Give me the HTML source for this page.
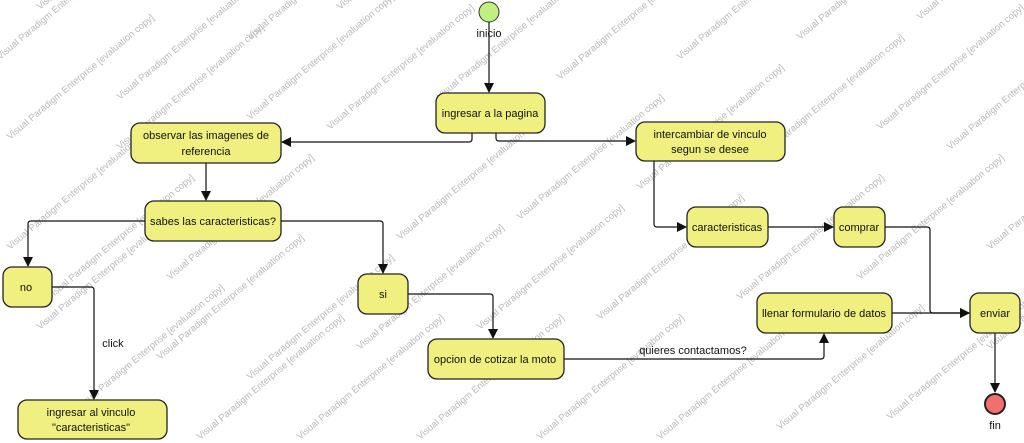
<!DOCTYPE html>
<html><head><meta charset="utf-8"><style>
html,body{margin:0;padding:0;background:#fff;width:1024px;height:443px;overflow:hidden}
svg{display:block}
text{font-family:"Liberation Sans",Arial,sans-serif}
.n{fill:#f0f080;stroke:#222;stroke-width:1.3}
.t{font-size:11px;fill:#111;text-anchor:middle}
.e{fill:none;stroke:#111;stroke-width:1.2}
.w{font-size:9.5px;fill:#b8b8b8}
</style></head><body>
<svg width="1024" height="443" viewBox="0 0 1024 443">
<defs><marker id="a" markerWidth="10" markerHeight="10" refX="9" refY="5" orient="auto" markerUnits="userSpaceOnUse"><path d="M0,0 L10,5 L0,10 z" fill="#111"/></marker></defs>
<g id="wm">
<script></script>
</g>
<g class="w">
<text transform="translate(0,60) rotate(-40)">Visual Paradigm Enterprise [evaluation copy]</text>
<text transform="translate(40,10) rotate(-40)">Visual Paradigm Enterprise [evaluation copy]</text>
<text transform="translate(10,140) rotate(-40)">Visual Paradigm Enterprise [evaluation copy]</text>
<text transform="translate(120,100) rotate(-40)">Visual Paradigm Enterprise [evaluation copy]</text>
<text transform="translate(120,150) rotate(-40)">Visual Paradigm Enterprise [evaluation copy]</text>
<text transform="translate(250,40) rotate(-40)">Visual Paradigm Enterprise [evaluation copy]</text>
<text transform="translate(250,120) rotate(-40)">Visual Paradigm Enterprise [evaluation copy]</text>
<text transform="translate(340,10) rotate(-40)">Visual Paradigm Enterprise [evaluation copy]</text>
<text transform="translate(330,130) rotate(-40)">Visual Paradigm Enterprise [evaluation copy]</text>
<text transform="translate(400,240) rotate(-40)">Visual Paradigm Enterprise [evaluation copy]</text>
<text transform="translate(440,100) rotate(-40)">Visual Paradigm Enterprise [evaluation copy]</text>
<text transform="translate(520,220) rotate(-40)">Visual Paradigm Enterprise [evaluation copy]</text>
<text transform="translate(560,80) rotate(-40)">Visual Paradigm Enterprise [evaluation copy]</text>
<text transform="translate(640,190) rotate(-40)">Visual Paradigm Enterprise [evaluation copy]</text>
<text transform="translate(680,60) rotate(-40)">Visual Paradigm Enterprise [evaluation copy]</text>
<text transform="translate(760,160) rotate(-40)">Visual Paradigm Enterprise [evaluation copy]</text>
<text transform="translate(800,40) rotate(-40)">Visual Paradigm Enterprise [evaluation copy]</text>
<text transform="translate(880,130) rotate(-40)">Visual Paradigm Enterprise [evaluation copy]</text>
<text transform="translate(920,20) rotate(-40)">Visual Paradigm Enterprise [evaluation copy]</text>
<text transform="translate(950,150) rotate(-40)">Visual Paradigm Enterprise [evaluation copy]</text>
<text transform="translate(10,250) rotate(-40)">Visual Paradigm Enterprise [evaluation copy]</text>
<text transform="translate(40,330) rotate(-40)">Visual Paradigm Enterprise [evaluation copy]</text>
<text transform="translate(50,300) rotate(-40)">Visual Paradigm Enterprise [evaluation copy]</text>
<text transform="translate(80,410) rotate(-40)">Visual Paradigm Enterprise [evaluation copy]</text>
<text transform="translate(160,360) rotate(-40)">Visual Paradigm Enterprise [evaluation copy]</text>
<text transform="translate(170,280) rotate(-40)">Visual Paradigm Enterprise [evaluation copy]</text>
<text transform="translate(200,440) rotate(-40)">Visual Paradigm Enterprise [evaluation copy]</text>
<text transform="translate(250,380) rotate(-40)">Visual Paradigm Enterprise [evaluation copy]</text>
<text transform="translate(300,440) rotate(-40)">Visual Paradigm Enterprise [evaluation copy]</text>
<text transform="translate(360,350) rotate(-40)">Visual Paradigm Enterprise [evaluation copy]</text>
<text transform="translate(420,440) rotate(-40)">Visual Paradigm Enterprise [evaluation copy]</text>
<text transform="translate(480,330) rotate(-40)">Visual Paradigm Enterprise [evaluation copy]</text>
<text transform="translate(540,440) rotate(-40)">Visual Paradigm Enterprise [evaluation copy]</text>
<text transform="translate(600,320) rotate(-40)">Visual Paradigm Enterprise [evaluation copy]</text>
<text transform="translate(660,440) rotate(-40)">Visual Paradigm Enterprise [evaluation copy]</text>
<text transform="translate(740,300) rotate(-40)">Visual Paradigm Enterprise [evaluation copy]</text>
<text transform="translate(780,430) rotate(-40)">Visual Paradigm Enterprise [evaluation copy]</text>
<text transform="translate(860,280) rotate(-40)">Visual Paradigm Enterprise [evaluation copy]</text>
<text transform="translate(890,420) rotate(-40)">Visual Paradigm Enterprise [evaluation copy]</text>
<text transform="translate(990,250) rotate(-40)">Visual Paradigm Enterprise [evaluation copy]</text>
<text transform="translate(990,350) rotate(-40)">Visual Paradigm Enterprise [evaluation copy]</text>
</g>

<!-- edges -->
<path class="e" d="M489,22 V92" marker-end="url(#a)"/>
<path class="e" d="M472,133 V139 Q472,142 469,142 H282" marker-end="url(#a)"/>
<path class="e" d="M496,133 V138 Q496,141 499,141 H635" marker-end="url(#a)"/>
<path class="e" d="M206,163 V200" marker-end="url(#a)"/>
<path class="e" d="M145,221 H31 Q28,221 28,224 V266" marker-end="url(#a)"/>
<path class="e" d="M281,221 H380 Q383,221 383,224 V273" marker-end="url(#a)"/>
<path class="e" d="M52,287 H91 Q94,287 94,290 V399" marker-end="url(#a)"/>
<path class="e" d="M408,294 H490 Q493,294 493,297 V338" marker-end="url(#a)"/>
<path class="e" d="M564,359 H821 Q824,359 824,356 V334" marker-end="url(#a)"/>
<path class="e" d="M654,161 V224 Q654,227 657,227 H686" marker-end="url(#a)"/>
<path class="e" d="M768,227 H833" marker-end="url(#a)"/>
<path class="e" d="M885,227 H927 Q930,227 930,230 V310 Q930,313 933,313 H969" marker-end="url(#a)"/>
<path class="e" d="M892,313 H969" marker-end="url(#a)"/>
<path class="e" d="M995,333 V392" marker-end="url(#a)"/>

<!-- nodes -->
<circle cx="489" cy="12" r="10" fill="#c0f080" stroke="#333" stroke-width="1"/>
<text class="t" x="489" y="37">inicio</text>
<rect class="n" x="436" y="93" width="109" height="40" rx="9"/>
<text class="t" x="490" y="117">ingresar a la pagina</text>
<rect class="n" x="131" y="123" width="150" height="40" rx="9"/>
<text class="t" x="206" y="139">observar las imagenes de</text>
<text class="t" x="206" y="155">referencia</text>
<rect class="n" x="145" y="201" width="136" height="40" rx="9"/>
<text class="t" x="213" y="225">sabes las caracteristicas?</text>
<rect class="n" x="636" y="122" width="149" height="39" rx="9"/>
<text class="t" x="710" y="138">intercambiar de vinculo</text>
<text class="t" x="710" y="153">segun se desee</text>
<rect class="n" x="687" y="207" width="81" height="40" rx="9"/>
<text class="t" x="727" y="231">caracteristicas</text>
<rect class="n" x="834" y="207" width="51" height="40" rx="9"/>
<text class="t" x="859" y="231">comprar</text>
<rect class="n" x="3" y="267" width="49" height="40" rx="9"/>
<text class="t" x="26" y="291">no</text>
<rect class="n" x="358" y="274" width="50" height="40" rx="9"/>
<text class="t" x="383" y="298">si</text>
<rect class="n" x="757" y="293" width="135" height="40" rx="9"/>
<text class="t" x="824" y="317">llenar formulario de datos</text>
<rect class="n" x="970" y="293" width="50" height="40" rx="9"/>
<text class="t" x="995" y="317">enviar</text>
<rect class="n" x="428" y="339" width="136" height="40" rx="9"/>
<text class="t" x="495" y="363">opcion de cotizar la  moto</text>
<rect class="n" x="18" y="400" width="149" height="39" rx="9"/>
<text class="t" x="91" y="416">ingresar al vinculo</text>
<text class="t" x="91" y="431">"caracteristicas"</text>
<circle cx="995" cy="404" r="10" fill="#f07070" stroke="#222" stroke-width="2"/>
<text class="t" x="995" y="429">fin</text>
<text class="t" x="113" y="347">click</text>
<text class="t" x="693" y="354">quieres contactamos?</text>
</svg>
</body></html>
